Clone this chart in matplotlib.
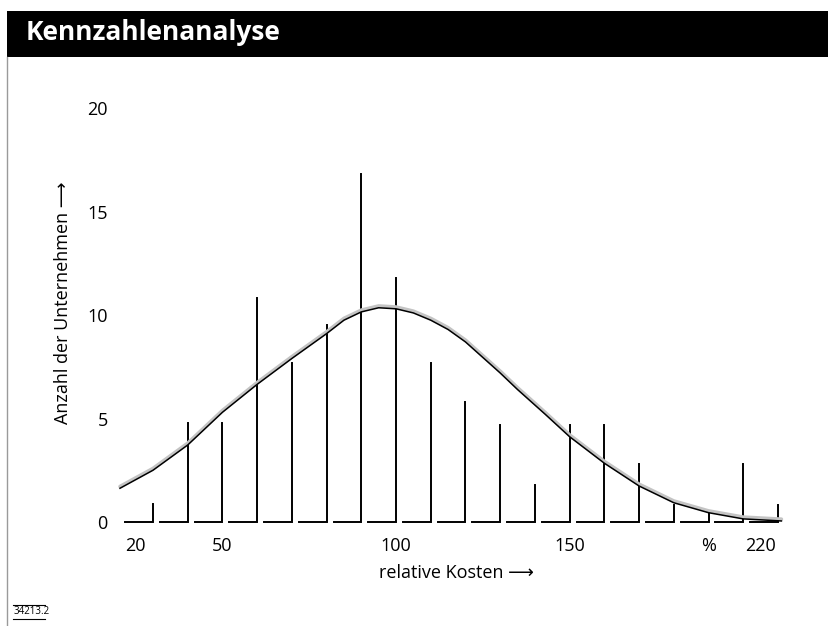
import matplotlib
matplotlib.use('Agg')
import matplotlib.pyplot as plt
import matplotlib.transforms as mtransforms
from matplotlib.patches import Rectangle
from matplotlib.lines import Line2D

# ---- data ----
bin_right = [30, 40, 50, 60, 70, 80, 90, 100, 110, 120, 130, 140, 150, 160, 170, 180, 190, 200, 210]
counts = [0.85, 4.8, 4.8, 10.8, 7.7, 9.5, 16.8, 11.8, 7.7, 5.8, 4.7, 1.8, 4.7, 4.7, 2.8, 0.8, 0.5, 2.8, 0.8]

curve_x = [20.5, 30, 40, 50, 60, 70, 75, 80, 85, 90, 95, 100, 105, 110, 115, 120, 125, 130, 135,
           143, 150, 160, 170, 180, 190, 200, 211]
curve_y = [1.63, 2.5, 3.72, 5.3, 6.65, 7.9, 8.5, 9.1, 9.75, 10.15, 10.35, 10.3, 10.1, 9.75, 9.3,
           8.7, 7.95, 7.2, 6.4, 5.2, 4.12, 2.84, 1.74, 0.93, 0.45, 0.15, 0.05]

x_tick_pos = [25, 50, 100, 150, 190, 205]
x_tick_labels = ['20', '50', '100', '150', '%', '220']
y_ticks = [0, 5, 10, 15, 20]

fonts = ['Open Sans', 'DejaVu Sans']
W, H = 829, 626

fig = plt.figure(figsize=(W / 100, H / 100), dpi=100)

# black title bar
fig.patches.append(Rectangle((7 / W, 1 - 57 / H), 1, 46 / H, transform=fig.transFigure,
                             facecolor='black', edgecolor='none'))
fig.text(26 / W, 1 - 33 / H, 'Kennzahlenanalyse', color='white', fontsize=19,
         fontweight='bold', va='center', ha='left', family=fonts)

# thin grey frame line on the left
fig.add_artist(Line2D([7.5 / W, 7.5 / W], [0, 1 - 57 / H], color='#9a9a9a', lw=1,
                      transform=fig.transFigure))

ax = fig.add_axes([114.8 / W, 0.1496, (795.3 - 114.8) / W, 0.7109])
ax.set_xlim(19, 215)
ax.set_ylim(-0.5, 21)

# L-shaped bins: short baseline segment ending in a vertical line
for right, h in zip(bin_right, counts):
    ax.plot([right - 8, right, right], [0, 0, h], color='black', lw=1.4,
            solid_joinstyle='miter', clip_on=False)

# fitted distribution curve with grey halo
halo = mtransforms.offset_copy(ax.transData, fig=fig, x=0, y=1.8, units='dots')
ax.plot(curve_x, curve_y, color='#c4c4c4', lw=2.6, transform=halo, solid_capstyle='round')
ax.plot(curve_x, curve_y, color='black', lw=1.1)

for s in ax.spines.values():
    s.set_visible(False)
ax.set_yticks(y_ticks)
ax.set_yticklabels([str(v) for v in y_ticks], family=fonts, fontsize=13)
ax.set_xticks(x_tick_pos)
ax.set_xticklabels(x_tick_labels, family=fonts, fontsize=13)
ax.tick_params(axis='both', length=0)
ax.tick_params(axis='y', pad=5)
ax.tick_params(axis='x', pad=3)

fig.text(456 / W, 1 - 573 / H, 'relative Kosten \u27f6', ha='center', va='center',
         fontsize=13, family=fonts)
fig.text(63 / W, 1 - 303 / H, 'Anzahl der Unternehmen \u27f6', ha='center', va='center',
         rotation=90, fontsize=13, family=fonts)

# small figure number at the bottom left
fig.text(14 / W, 1 - 612 / H, '34213.2', fontsize=7, ha='left', va='center', family=fonts)
fig.add_artist(Line2D([13 / W, 45 / W], [1 - 605 / H] * 2, color='black', lw=0.8,
                      transform=fig.transFigure))
fig.add_artist(Line2D([13 / W, 45 / W], [1 - 619 / H] * 2, color='black', lw=0.8,
                      transform=fig.transFigure))

fig.savefig('out.png', dpi=100)
